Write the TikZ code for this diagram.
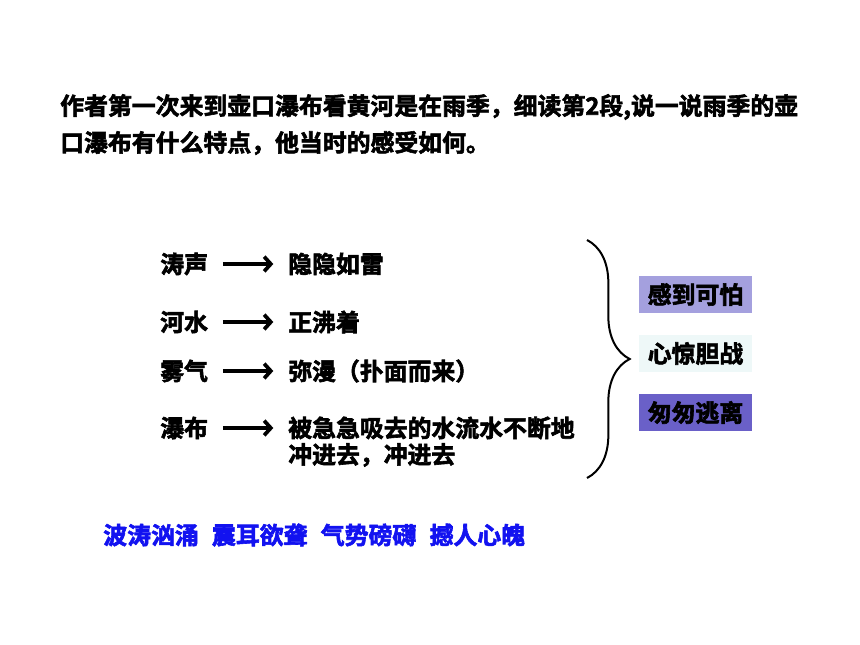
\documentclass[tikz,border=0pt]{standalone}
\usepackage{fontspec}
\setmainfont{Noto Sans CJK SC}[BoldFont={Noto Sans CJK SC Bold}, BoldFeatures={FakeBold=2.5}]
\usetikzlibrary{arrows.meta, positioning, decorations.pathreplacing}

\definecolor{moodA}{RGB}{164,160,222}
\definecolor{moodB}{RGB}{238,248,248}
\definecolor{moodC}{RGB}{106,96,200}
\definecolor{wordblue}{RGB}{18,18,240}

\begin{document}
\begin{tikzpicture}[x=0.75pt, y=-0.75pt, every node/.style={font=\fontsize{17.9}{21}\selectfont\bfseries, inner sep=0pt},
    feel/.style={anchor=west},
    goto/.style={line width=2.8pt, -{Straight Barb[length=5pt,width=11pt,line width=2.8pt]}, shorten <=11pt, shorten >=11pt},
    mood/.style={rectangle, minimum width=84.75pt, minimum height=27.75pt}]
    \useasboundingbox[fill=white] (0,0) rectangle (860,645);

    % question
    \node[anchor=west] (q1) at (60,107) {作者第一次来到壶口瀑布看黄河是在雨季，细读第2段,说一说雨季的壶};
    \node[anchor=west] (q2) at (60,143) {口瀑布有什么特点，他当时的感受如何。};

    % what he saw
    \node[feel] (tao) at (160,264) {涛声};
    \node[feel] (he) at (160,322) {河水};
    \node[feel] (wu) at (160,371) {雾气};
    \node[feel] (pu) at (160,428) {瀑布};
    \node[feel] (taoR) at (288,264) {隐隐如雷};
    \node[feel] (heR) at (288,322) {正沸着};
    \node[feel] (wuR) at (288,371) {弥漫（扑面而来）};
    \node[feel] (puR) at (288,428) {被急急吸去的水流水不断地};
    \node[feel] (puR2) at (288,455) {冲进去，冲进去};

    \draw[goto] (tao) -- (taoR);
    \draw[goto] (he) -- (heR);
    \draw[goto] (wu) -- (wuR);
    \draw[goto] (pu) -- (puR);

    % brace
    \coordinate (btop) at (587,240);
    \coordinate (bbot) at (587,478);
    \draw[line width=1.5pt, decorate, decoration={brace, amplitude=32pt}] (btop) -- (bbot);

    % feelings
    \node[mood, fill=moodA] (pa) at (695.5,294.5) {感到可怕};
    \node[mood, fill=moodB] (jing) at (695.5,353.5) {心惊胆战};
    \node[mood, fill=moodC] (tao2) at (695.5,412.5) {匆匆逃离};

    % words
    \node[anchor=west, text=wordblue] (ci) at (103,535) {波涛汹涌\hspace{10pt}震耳欲聋\hspace{10pt}气势磅礴\hspace{10pt}撼人心魄};
\end{tikzpicture}
\end{document}
